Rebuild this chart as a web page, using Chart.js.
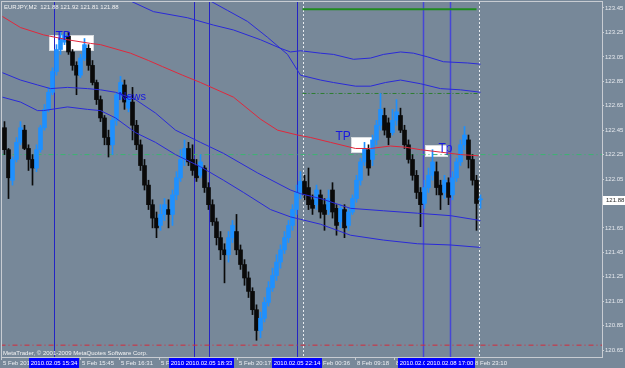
<!DOCTYPE html>
<html>
<head>
<meta charset="utf-8">
<script src="https://cdn.jsdelivr.net/npm/chart.js@4.4.0/dist/chart.umd.min.js"></script>
<style>
  html, body { margin: 0; padding: 0; background: #778899; }
  #wrap { width: 625px; height: 368px; }
</style>
</head>
<body>
<div id="wrap"><canvas id="chart" width="625" height="368"></canvas></div>
<script>
// EURJPY M2 candles (index 0 = leftmost bar)
const opens = [122.47,122.29,122.04,122.21,122.35,122.45,122.30,122.21,122.14,122.29,
  122.47,122.62,122.76,122.93,123.11,123.17,123.22,123.09,122.98,122.90,
  123.04,123.12,122.98,122.84,122.70,122.55,122.39,122.33,122.53,122.74,
  122.82,122.63,122.68,122.49,122.33,122.16,122.00,121.84,121.73,121.67,
  121.76,121.80,121.76,121.92,122.06,122.21,122.30,122.21,122.16,122.08,
  122.14,121.98,121.84,121.70,121.57,121.47,121.43,121.57,121.62,121.47,
  121.35,121.24,121.13,120.98,120.81,120.91,121.04,121.16,121.26,121.37,
  121.47,121.57,121.67,121.80,121.94,122.03,121.98,121.88,121.84,121.92,
  121.84,121.80,121.96,121.81,121.70,121.80,121.67,121.78,121.89,122.04,
  122.19,122.29,122.21,122.37,122.49,122.57,122.51,122.43,122.53,122.57,
  122.45,122.33,122.21,122.08,121.94,121.85,121.98,122.08,122.11,122.00,
  121.94,122.02,121.92,122.06,122.19,122.33,122.37,122.21,122.04,121.88];
const highs = [122.52,122.30,122.23,122.39,122.52,122.49,122.33,122.25,122.33,122.49,
  122.66,122.80,122.96,123.15,123.25,123.25,123.25,123.11,123.01,123.07,
  123.20,123.15,123.02,122.86,122.73,122.57,122.45,122.55,122.76,122.89,
  122.86,122.74,122.80,122.53,122.37,122.21,122.04,121.88,121.78,121.84,
  121.89,121.88,121.96,122.11,122.29,122.37,122.35,122.33,122.21,122.25,
  122.16,122.02,121.88,121.73,121.62,121.52,121.62,121.71,121.76,121.51,
  121.39,121.29,121.16,121.02,120.96,121.08,121.21,121.32,121.43,121.51,
  121.62,121.71,121.84,122.00,122.11,122.08,122.14,121.92,122.00,121.96,
  121.89,121.96,122.02,121.84,121.84,121.84,121.81,121.92,122.08,122.22,
  122.35,122.33,122.41,122.53,122.75,122.63,122.55,122.62,122.70,122.63,
  122.49,122.37,122.25,122.12,121.98,122.04,122.14,122.29,122.19,122.04,
  122.08,122.06,122.11,122.22,122.37,122.48,122.41,122.25,122.08,121.92];
const lows = [122.25,121.89,122.00,122.19,122.33,122.29,122.12,122.00,122.11,122.27,
  122.45,122.60,122.74,122.90,123.07,123.15,123.07,122.94,122.74,122.88,
  123.02,122.94,122.82,122.66,122.52,122.33,122.23,122.25,122.49,122.70,
  122.62,122.60,122.37,122.29,122.12,121.96,121.80,121.65,121.57,121.63,
  121.71,121.65,121.67,121.88,122.03,122.16,122.16,122.08,122.03,122.06,
  121.94,121.80,121.67,121.51,121.39,121.20,121.37,121.53,121.43,121.31,
  121.18,121.08,120.94,120.73,120.75,120.88,121.01,121.13,121.22,121.32,
  121.44,121.53,121.63,121.76,121.89,121.88,121.80,121.76,121.80,121.73,
  121.63,121.76,121.73,121.59,121.65,121.57,121.63,121.76,121.86,122.00,
  122.16,122.08,122.16,122.33,122.45,122.41,122.33,122.41,122.49,122.43,
  122.30,122.18,122.04,121.89,121.66,121.81,121.94,122.04,121.92,121.80,
  121.89,121.84,121.88,122.03,122.16,122.29,122.14,122.00,121.63,121.81];
const closes = [122.29,122.06,122.21,122.35,122.47,122.30,122.21,122.14,122.29,122.47,
  122.62,122.76,122.93,123.11,123.20,123.23,123.09,122.98,122.90,123.04,
  123.15,122.98,122.84,122.70,122.55,122.39,122.33,122.53,122.74,122.84,
  122.68,122.71,122.49,122.33,122.16,122.00,121.84,121.73,121.65,121.76,
  121.84,121.76,121.92,122.06,122.21,122.30,122.19,122.12,122.06,122.19,
  121.98,121.84,121.70,121.57,121.47,121.43,121.57,121.67,121.47,121.35,
  121.24,121.13,120.98,120.81,120.91,121.04,121.16,121.26,121.37,121.47,
  121.57,121.67,121.80,121.94,122.03,121.92,121.84,121.81,121.96,121.78,
  121.76,121.89,121.78,121.67,121.81,121.65,121.78,121.89,122.04,122.19,
  122.30,122.14,122.37,122.49,122.62,122.45,122.39,122.53,122.60,122.45,
  122.33,122.21,122.08,121.94,121.84,121.98,122.08,122.19,121.98,121.92,
  122.04,121.90,122.06,122.19,122.33,122.41,122.21,122.04,121.85,121.88];

// moving average (red) and envelope bands (blue), bar index / price
const maAt  = [-0.5, 4, 9.75, 15.75, 21.5, 24, 31.5, 36, 39.5, 44.5, 49, 57.25, 64, 68.25, 73.25, 76.5, 81.5, 87.75, 91.5, 96.5, 100.25, 104, 109, 114, 118.5];
const maVal = [123.38, 123.29, 123.23, 123.19, 123.16, 123.15, 123.08, 123.02, 122.97, 122.90, 122.84, 122.72, 122.54, 122.45, 122.41, 122.39, 122.35, 122.30, 122.30, 122.32, 122.31, 122.29, 122.27, 122.25, 122.24];
const upOuterAt  = [30, 37.25, 45.75, 52.25, 57.25, 64, 69, 71.5, 74, 79, 82.25, 87.25, 91.5, 94.75, 99, 102.25, 105.75, 109.75, 115.75, 119];
const upOuterVal = [123.53, 123.42, 123.37, 123.31, 123.27, 123.19, 123.12, 123.09, 123.10, 123.08, 123.07, 123.03, 123.04, 123.07, 123.09, 123.08, 123.05, 123.01, 123.00, 122.99];
const upInnerAt  = [50.75, 55.75, 60.75, 65.75, 70.75, 74, 79, 82.25, 87.75, 91.5, 95.25, 99, 104, 109, 114, 119];
const upInnerVal = [123.52, 123.43, 123.34, 123.21, 123.07, 122.90, 122.86, 122.84, 122.81, 122.81, 122.84, 122.86, 122.83, 122.79, 122.78, 122.76];
const loInnerAt  = [-0.5, 4, 8.25, 11.5, 15.75, 20.75, 24, 27.75, 32.75, 37.75, 42.75, 49, 54.75, 63.25, 71.5, 74, 79, 86.5, 94.75, 103.25, 111.5, 119];
const loInnerVal = [122.92, 122.86, 122.82, 122.79, 122.80, 122.79, 122.78, 122.76, 122.70, 122.59, 122.45, 122.35, 122.26, 122.10, 121.96, 121.93, 121.89, 121.81, 121.79, 121.77, 121.75, 121.71];
const loOuterAt  = [-0.5, 4, 8.25, 9.75, 15.75, 20.75, 24, 27.75, 32.75, 37.75, 42.75, 49, 54.75, 59.75, 66.5, 71.5, 74, 79, 86.5, 94.75, 103.25, 111.5, 119];
const loOuterVal = [122.72, 122.68, 122.61, 122.61, 122.64, 122.62, 122.61, 122.55, 122.43, 122.35, 122.25, 122.15, 122.04, 121.94, 121.80, 121.74, 121.72, 121.68, 121.59, 121.55, 121.52, 121.51, 121.49];

// horizontal levels
const levelTop = 123.44, levelMid = 122.75, levelBid = 122.25, levelLow = 120.69;
const weekStart = 74.5, weekEnd = 118.5;

// axis ticks
const yTicks = [123.45, 123.25, 123.05, 122.85, 122.65, 122.45, 122.25, 122.05, 121.85, 121.65, 121.45, 121.25, 121.05, 120.85, 120.65];
const xTickAt = [-0.875, 18.775, 28.6, 38.55, 58.2, 77.85, 87.675, 97.375, 117.0];
const xTickText = ['5 Feb 2010', '5 Feb 15:45', '5 Feb 16:31', '5 Feb 17:17', '5 Feb 20:17', '8 Feb 00:36', '8 Feb 09:18', '8 Feb 16:14', '8 Feb 23:10'];

// vertical line objects and their time stamps
const vLineAt = [12.25, 47.25, 51, 73, 104.5, 111.25];
const vLineStamp = ['2010.02.05 15:34', '2010.02.05 18:19', '2010.02.05 18:33', '2010.02.05 22:14', '2010.02.08 16:36', '2010.02.08 17:00'];
const dotLineAt = [74.5, 118.5];

// text objects: box from/to index, top/bottom price
const boxFrom = [11, 86.5, 105], boxTo = [22.25, 92, 110.75];
const boxTop = [123.23, 122.39, 122.33], boxBottom = [123.10, 122.26, 122.23];
const markText = ['TP', 'News', 'TP', 'Tp'];
const markAt = [12.75, 28.5, 82.75, 108.5];
const markPrice = [123.19, 122.70, 122.37, 122.27];

const FONT = "'Liberation Sans', Arial, sans-serif";
const bull = '#1e90ff', bear = '#0a0a0a';
const idx = opens.map((_, i) => i);
const barColor = idx.map(i => closes[i] >= opens[i] ? bull : bear);
const pts = (at, val) => at.map((x, i) => ({ x: x, y: val[i] }));
const lineSet = (data, color, width, order, dash) => ({
    type: 'line', data: data, borderColor: color, borderWidth: width,
    borderDash: dash || [], pointRadius: 0, tension: 0, fill: false, order: order
});

const last = opens.length - 1;

const mtPlugin = {
    id: 'mt',
    beforeDraw(chart) {
        const c = chart.ctx;
        c.save();
        c.fillStyle = '#778899';
        c.fillRect(0, 0, chart.width, chart.height);
        c.restore();
    },
    beforeDatasetsDraw(chart) {
        const c = chart.ctx, x = chart.scales.x, y = chart.scales.y, a = chart.chartArea;
        c.save();
        // white boxes behind the TP labels
        boxFrom.forEach((f, i) => {
            const x0 = Math.round(x.getPixelForValue(f)), x1 = Math.round(x.getPixelForValue(boxTo[i]));
            const y0 = Math.round(y.getPixelForValue(boxTop[i])), y1 = Math.round(y.getPixelForValue(boxBottom[i]));
            c.fillStyle = '#ffffff';
            c.fillRect(x0, y0, x1 - x0, y1 - y0);
            c.strokeStyle = '#d8dce0';
            c.lineWidth = 1;
            c.strokeRect(x0 + 0.5, y0 + 0.5, x1 - x0 - 1, y1 - y0 - 1);
        });
        // vertical lines
        vLineAt.forEach((v, i) => {
            const px = Math.round(x.getPixelForValue(v)) + 0.5;
            c.strokeStyle = i >= 4 ? '#4646d6' : '#2424c4';
            c.lineWidth = i >= 4 ? 1.5 : 1;
            c.beginPath(); c.moveTo(px, a.top); c.lineTo(px, a.bottom); c.stroke();
        });
        // dotted period separators
        c.setLineDash([2, 2]);
        c.strokeStyle = '#e8ecf0';
        c.lineWidth = 1;
        dotLineAt.forEach(v => {
            const px = Math.round(x.getPixelForValue(v)) + 0.5;
            c.beginPath(); c.moveTo(px, a.top); c.lineTo(px, a.bottom); c.stroke();
        });
        c.restore();
    },
    afterDatasetsDraw(chart) {
        const c = chart.ctx, x = chart.scales.x, y = chart.scales.y, a = chart.chartArea;
        c.save();
        // TP / News labels
        c.fillStyle = '#1818e0';
        markText.forEach((t, i) => {
            c.font = (t === 'News' ? '11px ' : '12px ') + FONT;
            c.textAlign = 'left';
            c.textBaseline = 'alphabetic';
            c.fillText(t, x.getPixelForValue(markAt[i]), y.getPixelForValue(markPrice[i]));
        });
        // frame
        c.strokeStyle = '#c8ccd2';
        c.lineWidth = 1;
        c.strokeRect(a.left - 0.5, a.top - 0.5, a.right - a.left + 1, a.bottom - a.top + 1);
        // header and copyright
        c.fillStyle = '#f2f2f2';
        c.font = '6px ' + FONT;
        c.textAlign = 'left';
        c.fillText('EURJPY,M2  ' + [opens[last], highs[last], lows[last], closes[last]].map(v => v.toFixed(2)).join(' '), 4, 9);
        c.fillText('MetaTrader, \u00a9 2001-2009 MetaQuotes Software Corp.', 3, 355);
        c.restore();
    },
    afterDraw(chart) {
        const c = chart.ctx, x = chart.scales.x, y = chart.scales.y, a = chart.chartArea;
        c.save();
        c.font = '6px ' + FONT;
        c.textBaseline = 'middle';
        // time axis labels with small tick marks
        c.textAlign = 'left';
        xTickAt.forEach((v, i) => {
            const px = Math.round(x.getPixelForValue(v));
            c.fillStyle = '#c8ccd2';
            c.fillRect(px, a.bottom + 1, 1, 2);
            c.fillStyle = '#eceef2';
            c.fillText(xTickText[i], px + 2, a.bottom + 6);
        });
        // time stamps of the vertical lines
        c.textAlign = 'center';
        vLineAt.forEach((v, i) => {
            const px = Math.round(x.getPixelForValue(v));
            c.fillStyle = '#0000ff';
            c.fillRect(px - 25, a.bottom + 1, 50, chart.height - a.bottom - 1);
            c.fillStyle = '#ffffff';
            c.fillText(vLineStamp[i], px, a.bottom + 6);
        });
        // current price label
        const py = Math.round(y.getPixelForValue(closes[last]));
        c.fillStyle = '#ffffff';
        c.fillRect(a.right + 1, py - 4, chart.width - a.right - 1, 9);
        c.fillStyle = '#2a2a2a';
        c.textAlign = 'left';
        c.fillText(closes[last].toFixed(2), a.right + 4, py + 0.5);
        c.restore();
    }
};

new Chart(document.getElementById('chart'), {
    type: 'bar',
    data: {
        datasets: [
            lineSet(pts(maAt, maVal), '#e0283c', 1, 0),
            lineSet(pts(upOuterAt, upOuterVal), '#2a2ad8', 1, 1),
            lineSet(pts(upInnerAt, upInnerVal), '#2a2ad8', 1, 1),
            lineSet(pts(loInnerAt, loInnerVal), '#2a2ad8', 1, 1),
            lineSet(pts(loOuterAt, loOuterVal), '#2a2ad8', 1, 1),
            {
                type: 'bar', label: 'body',
                data: idx.map(i => ({ x: i, y: [opens[i], closes[i]] })),
                backgroundColor: barColor, barThickness: 4, grouped: false,
                minBarLength: 1, borderWidth: 0, order: 2
            },
            {
                type: 'bar', label: 'wick',
                data: idx.map(i => ({ x: i, y: [lows[i], highs[i]] })),
                backgroundColor: barColor, barThickness: 1, grouped: false,
                borderWidth: 0, order: 3
            },
            lineSet([{ x: weekStart, y: levelTop }, { x: weekEnd - 0.5, y: levelTop }], '#1f8a1f', 2, 5),
            lineSet([{ x: weekStart, y: levelMid }, { x: weekEnd, y: levelMid }], '#2e7d32', 1, 5, [4, 2, 1, 2]),
            lineSet([{ x: -1, y: levelBid }, { x: 150, y: levelBid }], '#3cb371', 1, 5, [5, 3, 1, 3]),
            lineSet([{ x: -1, y: levelLow }, { x: 150, y: levelLow }], '#d62a3c', 1, 5, [5, 3, 1, 3])
        ]
    },
    options: {
        responsive: false,
        animation: false,
        events: [],
        layout: { padding: { left: 2, top: 2, right: 0, bottom: 0 } },
        plugins: { legend: { display: false }, tooltip: { enabled: false } },
        scales: {
            x: {
                type: 'linear', min: -0.625, max: 149.375, offset: false,
                grid: { display: false }, border: { display: false },
                ticks: { display: false },
                afterFit: s => { s.height = 11; s.paddingLeft = 0; s.paddingRight = 0; }
            },
            y: {
                type: 'linear', position: 'right', min: 120.593, max: 123.499,
                grid: { drawOnChartArea: false, drawTicks: true, tickLength: 2, color: '#c8ccd2' },
                border: { display: true, color: '#c8ccd2' },
                afterBuildTicks: s => { s.ticks = yTicks.map(v => ({ value: v })); },
                afterFit: s => { s.width = 23; s.paddingTop = 0; s.paddingBottom = 0; },
                ticks: {
                    padding: 1, color: '#e6e9ee', font: { size: 6, family: FONT },
                    callback: v => v.toFixed(2)
                }
            }
        }
    },
    plugins: [mtPlugin]
});
</script>
</body>
</html>
